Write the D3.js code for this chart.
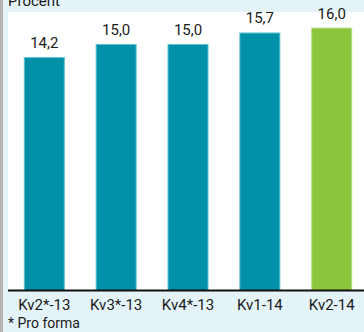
<!DOCTYPE html>
<html>
<head>
<meta charset="utf-8">
<script src="https://cdn.jsdelivr.net/npm/d3@7"></script>
<style>
  html, body { margin: 0; padding: 0; background: #e3f3f8; }
  svg { display: block; }
  text { font-family: "Liberation Sans Narrow", "Roboto", sans-serif; fill: #1a1a1a; }
</style>
</head>
<body>
<script>
var categories = ['Kv2*-13', 'Kv3*-13', 'Kv4*-13', 'Kv1-14', 'Kv2-14'];
var values = [14.2, 15.0, 15.0, 15.7, 16.0];
var valueLabels = ['14,2', '15,0', '15,0', '15,7', '16,0'];

var outerWidth = 364,
    outerHeight = 332,
    plot = {left: 8, top: 12, right: 364, bottom: 290};

var svg = d3.select('body').append('svg')
    .attr('width', outerWidth)
    .attr('height', outerHeight);

svg.append('rect')
    .attr('width', outerWidth)
    .attr('height', outerHeight)
    .attr('fill', '#e3f3f8');

svg.append('rect')
    .attr('width', 3)
    .attr('height', outerHeight)
    .attr('fill', '#b3b3b3');

svg.append('rect')
    .attr('x', plot.left)
    .attr('y', plot.top)
    .attr('width', plot.right - plot.left)
    .attr('height', plot.bottom - plot.top)
    .attr('fill', '#fff');

// title, cut by the top edge
svg.append('text')
    .attr('x', 8)
    .attr('y', 6)
    .style('font-size', '15px')
    .text('Procent');

var x = d3.scaleBand()
    .domain(categories)
    .range([8, 368])
    .paddingInner(0.43)
    .paddingOuter(0.22);

var y = d3.scaleLinear()
    .domain([0, 17.68])
    .range([plot.bottom, 0]);

svg.selectAll('rect.bar')
    .data(values)
    .enter()
    .append('rect')
    .attr('class', 'bar')
    .attr('x', (d, i) => x(categories[i]) + 0.5)
    .attr('y', d => y(d) + 0.5)
    .attr('width', x.bandwidth() - 1)
    .attr('height', d => plot.bottom - y(d))
    .attr('fill', (d, i) => i === values.length - 1 ? '#8cc63e' : '#0091a8')
    .attr('stroke', (d, i) => i === values.length - 1 ? '#b5dd85' : '#5ec0d0')
    .attr('stroke-width', 1);

svg.selectAll('text.val')
    .data(values)
    .enter()
    .append('text')
    .attr('class', 'val')
    .attr('x', (d, i) => x(categories[i]) + x.bandwidth() / 2)
    .attr('y', d => y(d) - 9)
    .attr('text-anchor', 'middle')
    .style('font-size', '15px')
    .text((d, i) => valueLabels[i]);

var axis = svg.append('g')
    .attr('transform', 'translate(0,' + plot.bottom + ')')
    .call(d3.axisBottom(x).tickSize(0).tickPadding(9));

axis.select('.domain').remove();
axis.selectAll('text')
    .style('font-size', '15px')
    .attr('fill', '#1a1a1a');

svg.append('line')
    .attr('x1', plot.left)
    .attr('x2', plot.right)
    .attr('y1', plot.bottom + 0.5)
    .attr('y2', plot.bottom + 0.5)
    .attr('stroke', '#111')
    .attr('stroke-width', 2);

svg.append('text')
    .attr('x', 8)
    .attr('y', 328)
    .style('font-size', '14px')
    .text('* Pro forma');
</script>
</body>
</html>
